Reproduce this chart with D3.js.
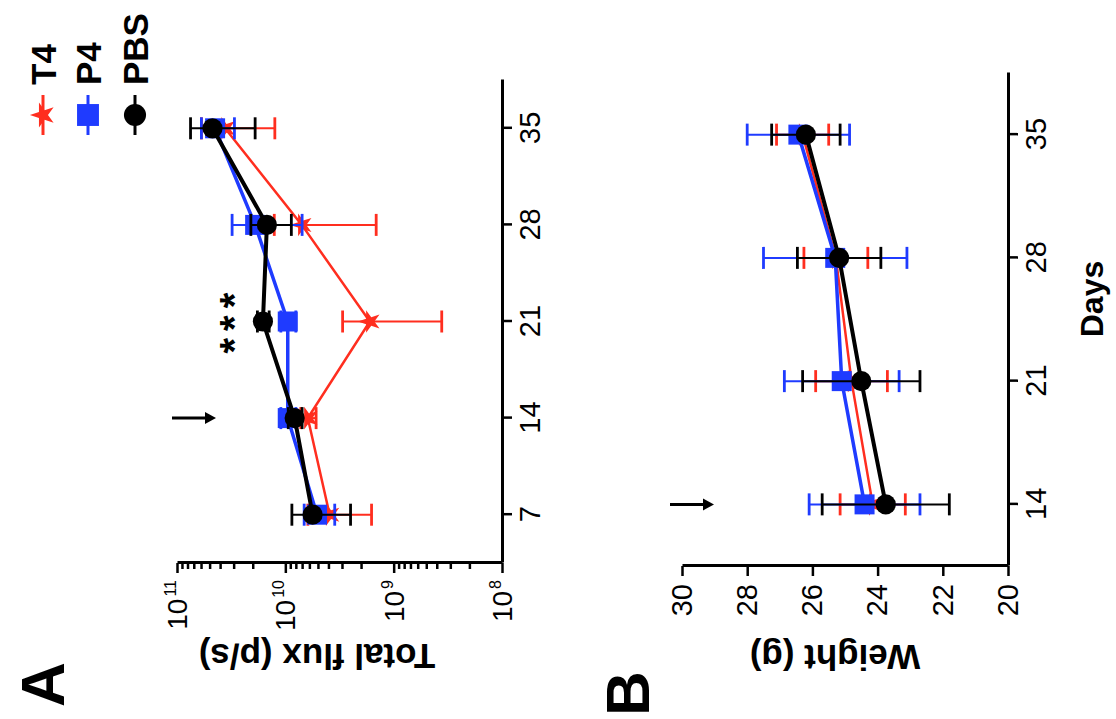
<!DOCTYPE html>
<html><head><meta charset="utf-8">
<script src="https://cdn.jsdelivr.net/npm/d3@7"></script>
<style>
html,body{margin:0;padding:0;background:#fff;}
text{font-family:"Liberation Sans",Arial,sans-serif;fill:#000;}
</style>
</head><body>
<script>
// ---------- data ----------
const seriesNames = ["T4", "P4", "PBS"];
const seriesColors = ["#ff2e1f", "#1f3bff", "#000000"];
const daysA = [7, 14, 21, 28, 35];
const fluxT4 = [3.9e9, 6.2e9, 1.66e9, 7.05e9, 3.6e10];
const fluxT4Err = [2.3e9, 1.0e9, 1.3e9, 5.6e9, 2.35e10];
const fluxP4 = [5.1e9, 9.5e9, 9.5e9, 1.9e10, 4.45e10];
const fluxP4Err = [1.6e9, 1.5e9, 1.5e9, 1.2e10, 1.5e10];
const fluxPBS = [5.6e9, 8.2e9, 1.61e10, 1.48e10, 4.7e10];
const fluxPBSErr = [3.1e9, 1.2e9, 2.0e9, 6.0e9, 2.8e10];
const fluxTickExps = [8, 9, 10, 11];

const daysB = [14, 21, 28, 35];
const weightT4 = [24.15, 24.8, 25.28, 26.3];
const weightT4Err = [1.0, 1.1, 0.98, 0.8];
const weightP4 = [24.4, 25.1, 25.3, 26.43];
const weightP4Err = [1.7, 1.76, 2.2, 1.57];
const weightPBS = [23.75, 24.5, 25.18, 26.2];
const weightPBSErr = [1.95, 1.8, 1.28, 1.05];
const weightTicks = [20, 22, 24, 26, 28, 30];

// ---------- setup ----------
const W = 1116, H = 719;
const svg = d3.select("body").append("svg").attr("width", W).attr("height", H);
// whole figure is drawn upright then rotated 90° counter-clockwise
const g = svg.append("g").attr("transform", `translate(0,${H}) rotate(-90)`);

const symbols = [d3.symbolStar, d3.symbolSquare, d3.symbolCircle];
const symSizes = [160, 400, 320];
const lineW = [2.5, 3.5, 4];

function styleAxis(sel, fs) {
  sel.selectAll(".domain").attr("stroke", "#000").attr("stroke-width", 3);
  sel.selectAll(".tick line").attr("stroke", "#000").attr("stroke-width", 2.5);
  sel.selectAll(".tick text").attr("font-size", fs).attr("font-family", "Liberation Sans, Arial, sans-serif").attr("fill", "#000");
}

function drawSeries(panel, x, y, days, means, errs) {
  means.forEach((m, si) => {
    const col = seriesColors[si];
    const pts = days.map((d, i) => ({d, m: m[i], e: errs[si][i]}));
    const eb = panel.append("g");
    pts.forEach(p => {
      const y1 = y(p.m - p.e), y2 = y(p.m + p.e), cx = x(p.d);
      eb.append("line").attr("x1", cx).attr("x2", cx).attr("y1", y1).attr("y2", y2)
        .attr("stroke", col).attr("stroke-width", 2);
      [y1, y2].forEach(yy => eb.append("line").attr("x1", cx - 11).attr("x2", cx + 11)
        .attr("y1", yy).attr("y2", yy).attr("stroke", col).attr("stroke-width", 2.8));
    });
    panel.append("path").datum(pts)
      .attr("d", d3.line().x(p => x(p.d)).y(p => y(p.m)))
      .attr("fill", "none").attr("stroke", col).attr("stroke-width", lineW[si]);
    panel.selectAll(null).data(pts).enter().append("path")
      .attr("d", d3.symbol().type(symbols[si]).size(symSizes[si]))
      .attr("transform", p => `translate(${x(p.d)},${y(p.m)})`)
      .attr("fill", col);
  });
}

function arrow(u, v1, v2) {
  g.append("line").attr("x1", u).attr("x2", u).attr("y1", v1).attr("y2", v2 - 8)
    .attr("stroke", "#000").attr("stroke-width", 3);
  g.append("path").attr("d", `M${u - 6},${v2 - 11} L${u + 6},${v2 - 11} L${u},${v2} Z`).attr("fill", "#000");
}

// ---------- Panel A ----------
const xA = d3.scaleLinear().domain([3.5, 38.5]).range([156, 639]);
const yA = d3.scaleLog().domain([1e8, 1e11]).range([502, 177]);

const axA = g.append("g").attr("transform", "translate(0,502)")
  .call(d3.axisBottom(xA).tickValues(daysA).tickSize(10).tickSizeOuter(0).tickPadding(7));
styleAxis(axA, 29);

const minorA = [];
fluxTickExps.slice(0, -1).forEach(e => { for (let k = 2; k <= 9; k++) minorA.push(k * Math.pow(10, e)); });
const ayA = g.append("g").attr("transform", "translate(156,0)")
  .call(d3.axisLeft(yA).tickValues(fluxTickExps.map(e => Math.pow(10, e))).tickSize(10).tickSizeOuter(0).tickFormat(() => ""));
styleAxis(ayA, 27);
const ayA2 = g.append("g").attr("transform", "translate(156,0)")
  .call(d3.axisLeft(yA).tickValues(minorA).tickSize(6).tickSizeOuter(0).tickFormat(() => ""));
styleAxis(ayA2, 27);
ayA2.select(".domain").remove();
fluxTickExps.forEach(e => {
  const t = g.append("text").attr("x", 139).attr("y", yA(Math.pow(10, e))).attr("dy", "0.36em")
    .attr("text-anchor", "end").attr("font-size", 28);
  t.append("tspan").text("10");
  t.append("tspan").attr("font-size", 16).attr("dx", 2).attr("dy", -11).text(e);
});

g.append("text").attr("transform", "translate(75,317) rotate(-90)").attr("text-anchor", "middle")
  .attr("font-size", 35).attr("font-weight", "bold").text("Total flux (p/s)");

drawSeries(g, xA, yA, daysA, [fluxT4, fluxP4, fluxPBS], [fluxT4Err, fluxP4Err, fluxPBSErr]);

arrow(xA(14), 172, 216);
g.append("text").attr("x", xA(21) - 32).attr("y", 248).attr("font-size", 40).attr("font-weight", "bold")
  .attr("letter-spacing", 7).text("***");

// legend
const legV = [43, 88, 135];
seriesNames.forEach((n, i) => {
  g.append("line").attr("x1", 584).attr("x2", 624).attr("y1", legV[i]).attr("y2", legV[i])
    .attr("stroke", seriesColors[i]).attr("stroke-width", 3);
  g.append("path").attr("d", d3.symbol().type(symbols[i]).size(symSizes[i] * 1.2)())
    .attr("transform", `translate(604,${legV[i]})`).attr("fill", seriesColors[i]);
  g.append("text").attr("x", 634).attr("y", legV[i]).attr("dy", "0.36em")
    .attr("font-size", 35).attr("font-weight", "bold").text(n);
});

g.append("text").attr("x", 12).attr("y", 64).attr("font-size", 62).attr("font-weight", "bold").text("A");

// ---------- Panel B ----------
const xB = d3.scaleLinear().domain([10.5, 38.5]).range([153, 646]);
const yB = d3.scaleLinear().domain([20, 30]).range([1008, 682]);

const axB = g.append("g").attr("transform", "translate(0,1008)")
  .call(d3.axisBottom(xB).tickValues(daysB).tickSize(10).tickSizeOuter(0).tickPadding(7));
styleAxis(axB, 29);
const ayB = g.append("g").attr("transform", "translate(153,0)")
  .call(d3.axisLeft(yB).tickValues(weightTicks).tickSize(10).tickSizeOuter(0).tickPadding(8));
styleAxis(ayB, 29);

g.append("text").attr("transform", "translate(74,835) rotate(-90)").attr("text-anchor", "middle")
  .attr("font-size", 35).attr("font-weight", "bold").text("Weight (g)");
g.append("text").attr("x", 420).attr("y", 1103).attr("text-anchor", "middle")
  .attr("font-size", 32).attr("font-weight", "bold").text("Days");

drawSeries(g, xB, yB, daysB, [weightT4, weightP4, weightPBS], [weightT4Err, weightP4Err, weightPBSErr]);

arrow(xB(14), 670, 714);

g.append("text").attr("x", 3).attr("y", 649).attr("font-size", 62).attr("font-weight", "bold").text("B");
</script>
</body></html>
